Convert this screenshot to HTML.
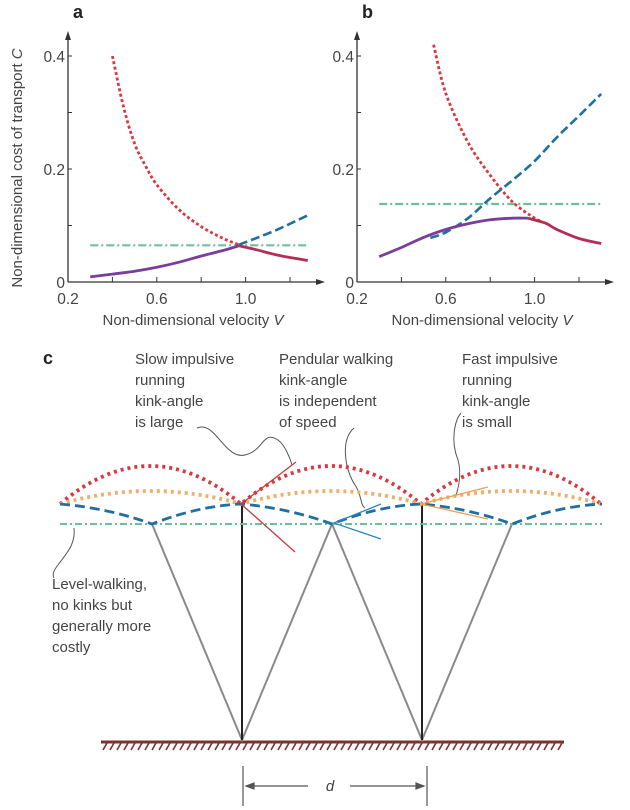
<!DOCTYPE html>
<html><head><meta charset="utf-8"><style>
html,body{margin:0;padding:0;background:#fff;}
svg{display:block;font-family:"Liberation Sans",sans-serif;}
</style></head><body>
<svg id="fig" width="630" height="810" viewBox="0 0 630 810"></svg>
<script>
// ---------- chart data ----------
const xTicks = [0.2, 0.4, 0.6, 0.8, 1.0, 1.2];
const xTickLabels = ["0.2", "", "0.6", "", "1.0", ""];
const yTicks = [0, 0.1, 0.2, 0.3, 0.4];
const yTickLabels = ["0", "", "0.2", "", "0.4"];

// panel a
const aRunV = [0.40, 0.45, 0.50, 0.55, 0.60, 0.70, 0.80, 0.90, 0.97];
const aRunC = [0.400, 0.310, 0.245, 0.205, 0.172, 0.128, 0.098, 0.077, 0.066];
const aWalkV = [0.97, 1.05, 1.15, 1.28];
const aWalkC = [0.066, 0.078, 0.094, 0.118];
const aOptV = [0.30, 0.40, 0.50, 0.60, 0.70, 0.80, 0.90, 0.97];
const aOptC = [0.009, 0.014, 0.019, 0.026, 0.035, 0.046, 0.056, 0.064];
const aOptRunV = [0.97, 1.05, 1.15, 1.28];
const aOptRunC = [0.064, 0.057, 0.047, 0.038];
const aLevelV = [0.30, 1.28];
const aLevelC = [0.065, 0.065];

// panel b
const bRunV = [0.545, 0.60, 0.70, 0.80, 0.90, 1.00, 1.03];
const bRunC = [0.420, 0.334, 0.247, 0.189, 0.142, 0.113, 0.108];
const bWalkV = [0.53, 0.60, 0.70, 0.80, 0.90, 1.00, 1.10, 1.20, 1.30];
const bWalkC = [0.078, 0.088, 0.113, 0.148, 0.180, 0.214, 0.256, 0.294, 0.333];
const bOptV = [0.30, 0.40, 0.50, 0.60, 0.70, 0.80, 0.90, 0.97];
const bOptC = [0.045, 0.061, 0.079, 0.093, 0.103, 0.110, 0.113, 0.113];
const bOptRunV = [0.97, 1.05, 1.10, 1.20, 1.30];
const bOptRunC = [0.113, 0.104, 0.093, 0.077, 0.068];
const bLevelV = [0.30, 1.30];
const bLevelC = [0.138, 0.138];

const NS = "http://www.w3.org/2000/svg";
const svg = document.getElementById("fig");
function mk(tag, attrs, parent) {
  const e = document.createElementNS(NS, tag);
  for (const k in attrs) e.setAttribute(k, attrs[k]);
  (parent || svg).appendChild(e);
  return e;
}
function txt(s, attrs, parent) { const t = mk("text", attrs, parent); t.textContent = s; return t; }
function smooth(pts) {
  if (pts.length < 3) return pts.map((p, i) => (i ? "L" : "M") + p[0].toFixed(1) + "," + p[1].toFixed(1)).join(" ");
  let d = "M" + pts[0][0].toFixed(1) + "," + pts[0][1].toFixed(1);
  for (let i = 0; i < pts.length - 1; i++) {
    const p0 = pts[Math.max(0, i - 1)], p1 = pts[i], p2 = pts[i + 1], p3 = pts[Math.min(pts.length - 1, i + 2)];
    const c1x = p1[0] + (p2[0] - p0[0]) / 6, c1y = p1[1] + (p2[1] - p0[1]) / 6;
    const c2x = p2[0] - (p3[0] - p1[0]) / 6, c2y = p2[1] - (p3[1] - p1[1]) / 6;
    d += ` C${c1x.toFixed(1)},${c1y.toFixed(1)} ${c2x.toFixed(1)},${c2y.toFixed(1)} ${p2[0].toFixed(1)},${p2[1].toFixed(1)}`;
  }
  return d;
}

function panel(ox, label, series) {
  const g = mk("g", {});
  
  
  const x0 = ox, y0 = 282, pxV = 222, pxC = 565;
  const X = v => x0 + (v - 0.2) * pxV;
  const Y = c => y0 - c * pxC;
  const lab = txt(label, {x: ox + 5, y: 18, "font-size": 18, "font-weight": "bold", fill: "#222"}, g);
  
  
  const ya = mk("line", {x1: x0, y1: y0, x2: x0, y2: 38, stroke: "#333", "stroke-width": 1.3}, g);
  
  
  mk("path", {d: `M${x0-3},40 L${x0},31 L${x0+3},40Z`, fill: "#333"}, g);
  const xa = mk("line", {x1: x0, y1: y0, x2: x0 + 250, y2: y0, stroke: "#333", "stroke-width": 1.3}, g);
  
  
  mk("path", {d: `M${x0+248},${y0-3} L${x0+257},${y0} L${x0+248},${y0+3}Z`, fill: "#333"}, g);
  xTicks.forEach((v, i) => {
    if (i > 0) mk("line", {x1: X(v), y1: y0, x2: X(v), y2: y0 - 5, stroke: "#333", "stroke-width": 1}, g);
    if (xTickLabels[i]) {
      const t = txt(xTickLabels[i], {x: X(v), y: y0 + 22, "font-size": 15.5, fill: "#444", "text-anchor": "middle"}, g);
      
      
    }
  });
  yTicks.forEach((c, i) => {
    if (i > 0) mk("line", {x1: x0, y1: Y(c), x2: x0 + 4, y2: Y(c), stroke: "#333", "stroke-width": 1}, g);
    if (yTickLabels[i]) {
      const t = txt(yTickLabels[i], {x: x0 - 3, y: Y(c) + 6, "font-size": 15.5, fill: "#444", "text-anchor": "end"}, g);
      
      
    }
  });
  const xl = txt("Non-dimensional velocity ", {x: x0 + 125, y: 325, "font-size": 15, fill: "#444", "text-anchor": "middle"}, g);
  const it = mk("tspan", {"font-style": "italic"}, xl); it.textContent = "V";
  
  
  series.forEach(s => {
    const d = smooth(s.v.map((v, i) => [X(v), Y(s.c[i])]));
    const p = mk("path", {d: d, fill: "none", stroke: s.color, "stroke-width": s.w, "stroke-dasharray": s.dash || "none", "stroke-linejoin": "round", "stroke-linecap": "butt"}, g);
    
    
  });
}
const RED = "#d8383f", BLUE = "#1f6fa3", GREEN = "#6dbf9c", PURPLE = "#7a3d99", MAG = "#b32e55";
panel(68, "a", [
  {v: aLevelV, c: aLevelC, color: GREEN, w: 2.2, dash: "8 3 2 3", name: "level-walking-line"},
  {v: aRunV, c: aRunC, color: RED, w: 2.8, dash: "3 2.5", name: "impulsive-running-line"},
  {v: aWalkV, c: aWalkC, color: BLUE, w: 2.6, dash: "9 4", name: "pendular-walking-line"},
  {v: aOptV, c: aOptC, color: PURPLE, w: 2.8, name: "optimal-walk-line"},
  {v: aOptRunV, c: aOptRunC, color: MAG, w: 2.8, name: "optimal-run-line"}
]);
panel(357, "b", [
  {v: bLevelV, c: bLevelC, color: GREEN, w: 2.2, dash: "8 3 2 3", name: "level-walking-line"},
  {v: bRunV, c: bRunC, color: RED, w: 2.8, dash: "3 2.5", name: "impulsive-running-line"},
  {v: bWalkV, c: bWalkC, color: BLUE, w: 2.6, dash: "9 4", name: "pendular-walking-line"},
  {v: bOptV, c: bOptC, color: PURPLE, w: 2.8, name: "optimal-walk-line"},
  {v: bOptRunV, c: bOptRunC, color: MAG, w: 2.8, name: "optimal-run-line"}
]);
const yt = txt("Non-dimensional cost of transport ", {x: 0, y: 0, "font-size": 15, fill: "#444", "text-anchor": "middle", transform: "translate(22,168) rotate(-90)"});
const yti = mk("tspan", {"font-style": "italic"}, yt); yti.textContent = "C";


</script>

<svg width="630" height="810" viewBox="0 0 630 810" style="position:absolute;left:0;top:0">
  <text x="43" y="364" font-size="18" font-weight="bold" fill="#222">c</text>
  <g font-size="15" fill="#444">
    <text x="135" y="364"><tspan x="135">Slow impulsive</tspan><tspan x="135" dy="21">running</tspan><tspan x="135" dy="21">kink-angle</tspan><tspan x="135" dy="21">is large</tspan></text>
    <text x="279" y="364"><tspan x="279">Pendular walking</tspan><tspan x="279" dy="21">kink-angle</tspan><tspan x="279" dy="21">is independent</tspan><tspan x="279" dy="21">of speed</tspan></text>
    <text x="462" y="364"><tspan x="462">Fast impulsive</tspan><tspan x="462" dy="21">running</tspan><tspan x="462" dy="21">kink-angle</tspan><tspan x="462" dy="21">is small</tspan></text>
    <text x="52" y="589"><tspan x="52">Level-walking,</tspan><tspan x="52" dy="21">no kinks but</tspan><tspan x="52" dy="21">generally more</tspan><tspan x="52" dy="21">costly</tspan></text>
  </g>
  <g fill="none" stroke="#555" stroke-width="1">
    <path d="M197,428 C215,420 225,460 245,455 C265,450 262,430 278,440 C285,445 290,458 292,465"/>
    <path d="M354,428 C340,440 345,470 355,485 C362,495 360,505 365,508"/>
    <path d="M461,413 C455,420 450,440 458,460 C462,475 458,490 455,498"/>
    <path d="M74,528 C76,545 65,555 58,565 C54,570 52,574 54,578"/>
  </g>
  <g>
    <line x1="101" y1="742" x2="564" y2="742" stroke="#7a3232" stroke-width="3"/>
    <path d="M103,750 l4,-7 M110,750 l4,-7 M117,750 l4,-7 M124,750 l4,-7 M131,750 l4,-7 M138,750 l4,-7 M145,750 l4,-7 M152,750 l4,-7 M159,750 l4,-7 M166,750 l4,-7 M173,750 l4,-7 M180,750 l4,-7 M187,750 l4,-7 M194,750 l4,-7 M201,750 l4,-7 M208,750 l4,-7 M215,750 l4,-7 M222,750 l4,-7 M229,750 l4,-7 M236,750 l4,-7 M243,750 l4,-7 M250,750 l4,-7 M257,750 l4,-7 M264,750 l4,-7 M271,750 l4,-7 M278,750 l4,-7 M285,750 l4,-7 M292,750 l4,-7 M299,750 l4,-7 M306,750 l4,-7 M313,750 l4,-7 M320,750 l4,-7 M327,750 l4,-7 M334,750 l4,-7 M341,750 l4,-7 M348,750 l4,-7 M355,750 l4,-7 M362,750 l4,-7 M369,750 l4,-7 M376,750 l4,-7 M383,750 l4,-7 M390,750 l4,-7 M397,750 l4,-7 M404,750 l4,-7 M411,750 l4,-7 M418,750 l4,-7 M425,750 l4,-7 M432,750 l4,-7 M439,750 l4,-7 M446,750 l4,-7 M453,750 l4,-7 M460,750 l4,-7 M467,750 l4,-7 M474,750 l4,-7 M481,750 l4,-7 M488,750 l4,-7 M495,750 l4,-7 M502,750 l4,-7 M509,750 l4,-7 M516,750 l4,-7 M523,750 l4,-7 M530,750 l4,-7 M537,750 l4,-7 M544,750 l4,-7 M551,750 l4,-7 M558,750 l4,-7" stroke="#7a3232" stroke-width="1.6"/>
  </g>
  <g stroke="#8a8a8a" stroke-width="2" fill="none">
    <path d="M152,524 L242,740 L332,524 L422,740 L512,524"/>
  </g>
  <g stroke="#222" stroke-width="2">
    <line x1="242" y1="504" x2="242" y2="740"/>
    <line x1="422" y1="504" x2="422" y2="740"/>
  </g>
  <path d="M60,524 L602,524" stroke="#6dbf9c" stroke-width="2" stroke-dasharray="7 3 2 3" fill="none"/>
  <path d="M60,504 Q150,428 241,504 Q331,428 421,504 Q511,428 601,504" stroke="#d8383f" stroke-width="3.8" stroke-dasharray="3 4" fill="none"/>
  <path d="M60,504 Q150,478 241,504 Q331,478 421,504 Q511,478 601,504" stroke="#f0ae6c" stroke-width="3.8" stroke-dasharray="3 4" fill="none"/>
  <path d="M60,504 Q108,508 152,524 Q198,506 241,504 Q288,508 332,524 Q378,506 421,504 Q468,508 512,524 Q558,506 602,504" stroke="#1f6fa3" stroke-width="2.8" stroke-dasharray="10 5" fill="none"/>
  <path d="M296,462 L241,504 L295,552" stroke="#c9393f" stroke-width="1.3" fill="none"/>
  <path d="M381,504 L334,523 L381,539" stroke="#2a86c0" stroke-width="1.3" fill="none"/>
  <path d="M488,487 L421,504 L488,519" stroke="#eea050" stroke-width="1.3" fill="none"/>
  <g stroke="#555" stroke-width="1.2">
    <line x1="243" y1="766" x2="243" y2="806"/>
    <line x1="427" y1="766" x2="427" y2="806"/>
    <line x1="246" y1="786" x2="308" y2="786"/>
    <line x1="350" y1="786" x2="424" y2="786"/>
    <path d="M246,786 l8,-3 v6z M424,786 l-8,-3 v6z" fill="#555"/>
  </g>
  <text x="330" y="791" font-size="15" font-style="italic" fill="#444" text-anchor="middle">d</text>
</svg>
</body></html>
